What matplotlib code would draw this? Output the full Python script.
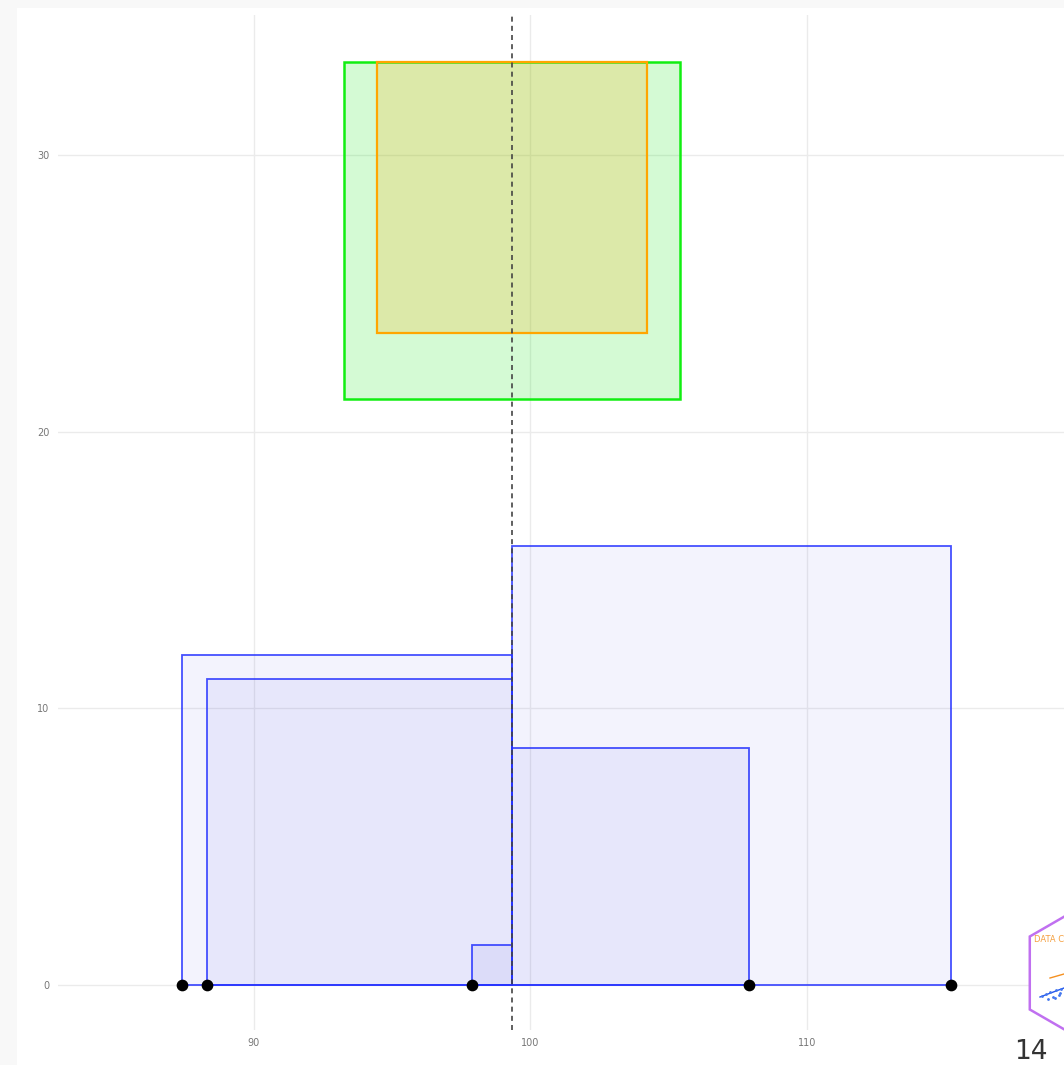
import matplotlib
matplotlib.use("Agg")
import matplotlib.pyplot as plt
from matplotlib.patches import Rectangle, Polygon
import numpy as np

# Observations
x_values = [87.4, 88.3, 97.9, 107.9, 115.2]
# Shared top edge of the two summary squares
summary_top = 33.35

x_ticks = [90, 100, 110]
y_ticks = [0, 10, 20, 30]

x = np.array(x_values)
mean = x.mean()
dev = x - mean
sd = x.std(ddof=1)
mad = np.abs(dev).mean()

W, H = 1064, 1065
fig = plt.figure(figsize=(W / 100, H / 100), dpi=100)
fig.patch.set_facecolor("#f8f8f8")

# white slide panel
fig.add_artist(Rectangle((17 / W, 0), 1.0, 1 - 8 / H, transform=fig.transFigure,
                         facecolor="white", edgecolor="none", zorder=0))

left, right = 58 / W, 1100 / W
bottom, top = 1 - 1030 / H, 1 - 15 / H
ax = fig.add_axes([left, bottom, right - left, top - bottom])
ax.set_facecolor("none")
ax.set_xlim(82.93, 120.6)
ax.set_ylim(-1.63, 35.06)

for s in ax.spines.values():
    s.set_visible(False)
ax.set_xticks(x_ticks)
ax.set_yticks(y_ticks)
ax.tick_params(length=0, labelsize=7, labelcolor="#777777", pad=6)
ax.grid(True, color="#ebebeb", linewidth=1.0)
ax.set_axisbelow(True)

# squared deviation boxes
for xi, d in zip(x, dev):
    x0 = min(xi, mean)
    side = abs(d)
    ax.add_patch(Rectangle((x0, 0), side, side, facecolor=(0.1, 0.1, 0.85, 0.05),
                           edgecolor=(0.15, 0.2, 1.0, 0.85), linewidth=1.3, zorder=2))

# standard deviation square
ax.add_patch(Rectangle((mean - sd / 2, summary_top - sd), sd, sd,
                       facecolor=(0.0, 0.9, 0.0, 0.17), edgecolor="#11ee11",
                       linewidth=1.8, zorder=3))
# mean absolute deviation square
ax.add_patch(Rectangle((mean - mad / 2, summary_top - mad), mad, mad,
                       facecolor=(1.0, 0.65, 0.0, 0.2), edgecolor="#ffa500",
                       linewidth=1.6, zorder=4))

ax.axvline(mean, color="#444444", linestyle=(0, (3, 2.5)), linewidth=1.2, zorder=5)
ax.scatter(x, np.zeros_like(x), s=55, color="black", zorder=6, clip_on=False)

# hex badge in the corner
cx, cy, r = 1093, 973, 73
hx = [cx + r * np.cos(np.pi / 6 + k * np.pi / 3) for k in range(6)]
hy = [cy + r * np.sin(np.pi / 6 + k * np.pi / 3) for k in range(6)]
fig.add_artist(Polygon([(a / W, 1 - b / H) for a, b in zip(hx, hy)], closed=True,
                       transform=fig.transFigure, facecolor="white",
                       edgecolor="#c070f0", linewidth=1.8, zorder=10))
fig.text(1034 / W, 1 - 940 / H, "DATA C", fontsize=6, color="#f5a040",
         ha="left", va="center", zorder=11)
badge_blue_x = [1042, 1046, 1050, 1053, 1056, 1059, 1061, 1048, 1055, 1060]
badge_blue_y = [996, 994, 992, 997, 990, 995, 989, 999, 998, 993]
fig.add_artist(plt.Line2D([1040 / W, 1064 / W], [1 - 997 / H, 1 - 988 / H],
                          transform=fig.transFigure, color="#2255ee", lw=1, zorder=11))
fig.add_artist(plt.Line2D([1050 / W, 1064 / W], [1 - 978 / H, 1 - 974 / H],
                          transform=fig.transFigure, color="#f59020", lw=1, zorder=11))
for bx, by in zip(badge_blue_x, badge_blue_y):
    fig.add_artist(plt.Line2D([bx / W], [1 - by / H], marker="o", markersize=1,
                              color="#4477ee", transform=fig.transFigure, zorder=11))

fig.text(1031 / W, 1 - 1052 / H, "14", fontsize=19, color="#333333",
         ha="center", va="center", zorder=11)

fig.savefig("out.png", dpi=100)
